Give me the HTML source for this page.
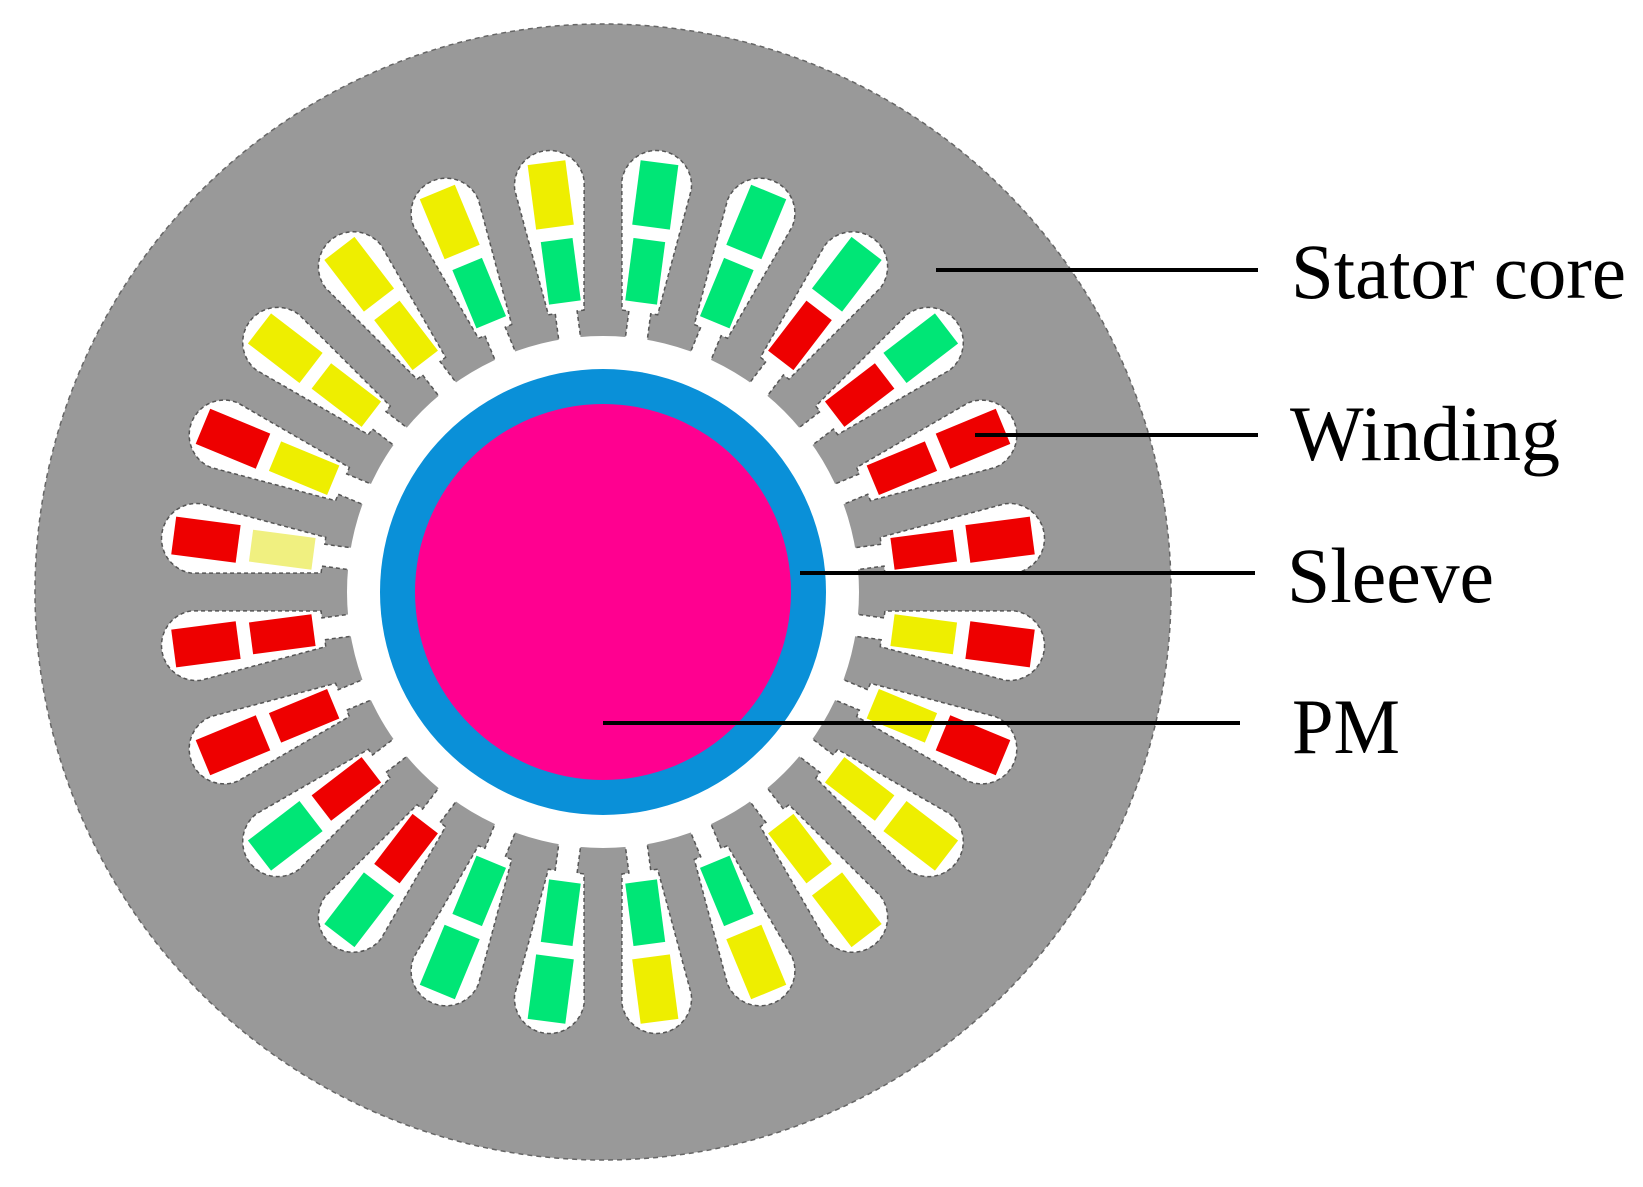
<!DOCTYPE html>
<html><head><meta charset="utf-8"><style>
html,body{margin:0;padding:0;background:#fff;}
svg{display:block;}
text{font-family:"Liberation Serif",serif;font-size:78px;fill:#000;}
</style></head><body>
<svg width="1643" height="1187" viewBox="0 0 1643 1187" xmlns="http://www.w3.org/2000/svg">
<defs>
<path id="s" d="M -11,-250 L -11,-282 L -18,-282 L -35,-410 A 35 35 0 0 1 35,-410 L 18,-282 L 11,-282 L 11,-250 Z" fill="#fff" stroke="#555" stroke-width="1.5" stroke-dasharray="4 3"/>
</defs>
<circle cx="603" cy="592" r="568" fill="#999" stroke="#666" stroke-width="1.5" stroke-dasharray="5 4"/>
<g id="slots"></g>
<g transform="translate(603 592)">
<g transform="rotate(7.5)"><use href="#s"/><rect x="-19" y="-433" width="38" height="65" fill="#00e676"/><rect x="-16" y="-355" width="32" height="63" fill="#00e676"/></g>
<g transform="rotate(22.5)"><use href="#s"/><rect x="-19" y="-433" width="38" height="65" fill="#00e676"/><rect x="-16" y="-355" width="32" height="63" fill="#00e676"/></g>
<g transform="rotate(37.5)"><use href="#s"/><rect x="-19" y="-433" width="38" height="65" fill="#00e676"/><rect x="-16" y="-355" width="32" height="63" fill="#ee0000"/></g>
<g transform="rotate(52.5)"><use href="#s"/><rect x="-19" y="-433" width="38" height="65" fill="#00e676"/><rect x="-16" y="-355" width="32" height="63" fill="#ee0000"/></g>
<g transform="rotate(67.5)"><use href="#s"/><rect x="-19" y="-433" width="38" height="65" fill="#ee0000"/><rect x="-16" y="-355" width="32" height="63" fill="#ee0000"/></g>
<g transform="rotate(82.5)"><use href="#s"/><rect x="-19" y="-433" width="38" height="65" fill="#ee0000"/><rect x="-16" y="-355" width="32" height="63" fill="#ee0000"/></g>
<g transform="rotate(97.5)"><use href="#s"/><rect x="-19" y="-433" width="38" height="65" fill="#ee0000"/><rect x="-16" y="-355" width="32" height="63" fill="#eeee00"/></g>
<g transform="rotate(112.5)"><use href="#s"/><rect x="-19" y="-433" width="38" height="65" fill="#ee0000"/><rect x="-16" y="-355" width="32" height="63" fill="#eeee00"/></g>
<g transform="rotate(127.5)"><use href="#s"/><rect x="-19" y="-433" width="38" height="65" fill="#eeee00"/><rect x="-16" y="-355" width="32" height="63" fill="#eeee00"/></g>
<g transform="rotate(142.5)"><use href="#s"/><rect x="-19" y="-433" width="38" height="65" fill="#eeee00"/><rect x="-16" y="-355" width="32" height="63" fill="#eeee00"/></g>
<g transform="rotate(157.5)"><use href="#s"/><rect x="-19" y="-433" width="38" height="65" fill="#eeee00"/><rect x="-16" y="-355" width="32" height="63" fill="#00e676"/></g>
<g transform="rotate(172.5)"><use href="#s"/><rect x="-19" y="-433" width="38" height="65" fill="#eeee00"/><rect x="-16" y="-355" width="32" height="63" fill="#00e676"/></g>
<g transform="rotate(187.5)"><use href="#s"/><rect x="-19" y="-433" width="38" height="65" fill="#00e676"/><rect x="-16" y="-355" width="32" height="63" fill="#00e676"/></g>
<g transform="rotate(202.5)"><use href="#s"/><rect x="-19" y="-433" width="38" height="65" fill="#00e676"/><rect x="-16" y="-355" width="32" height="63" fill="#00e676"/></g>
<g transform="rotate(217.5)"><use href="#s"/><rect x="-19" y="-433" width="38" height="65" fill="#00e676"/><rect x="-16" y="-355" width="32" height="63" fill="#ee0000"/></g>
<g transform="rotate(232.5)"><use href="#s"/><rect x="-19" y="-433" width="38" height="65" fill="#00e676"/><rect x="-16" y="-355" width="32" height="63" fill="#ee0000"/></g>
<g transform="rotate(247.5)"><use href="#s"/><rect x="-19" y="-433" width="38" height="65" fill="#ee0000"/><rect x="-16" y="-355" width="32" height="63" fill="#ee0000"/></g>
<g transform="rotate(262.5)"><use href="#s"/><rect x="-19" y="-433" width="38" height="65" fill="#ee0000"/><rect x="-16" y="-355" width="32" height="63" fill="#ee0000"/></g>
<g transform="rotate(277.5)"><use href="#s"/><rect x="-19" y="-433" width="38" height="65" fill="#ee0000"/><rect x="-16" y="-355" width="32" height="63" fill="#f0f080"/></g>
<g transform="rotate(292.5)"><use href="#s"/><rect x="-19" y="-433" width="38" height="65" fill="#ee0000"/><rect x="-16" y="-355" width="32" height="63" fill="#eeee00"/></g>
<g transform="rotate(307.5)"><use href="#s"/><rect x="-19" y="-433" width="38" height="65" fill="#eeee00"/><rect x="-16" y="-355" width="32" height="63" fill="#eeee00"/></g>
<g transform="rotate(322.5)"><use href="#s"/><rect x="-19" y="-433" width="38" height="65" fill="#eeee00"/><rect x="-16" y="-355" width="32" height="63" fill="#eeee00"/></g>
<g transform="rotate(337.5)"><use href="#s"/><rect x="-19" y="-433" width="38" height="65" fill="#eeee00"/><rect x="-16" y="-355" width="32" height="63" fill="#00e676"/></g>
<g transform="rotate(352.5)"><use href="#s"/><rect x="-19" y="-433" width="38" height="65" fill="#eeee00"/><rect x="-16" y="-355" width="32" height="63" fill="#00e676"/></g>
</g>
<circle cx="603" cy="592" r="256" fill="#fff"/>
<circle cx="603" cy="592" r="223" fill="#0a90d8"/>
<circle cx="603" cy="592" r="188" fill="#ff0090"/>
<g stroke="#000" stroke-width="4">
<line x1="936" y1="270" x2="1258" y2="270"/>
<line x1="975" y1="435" x2="1258" y2="435"/>
<line x1="800" y1="573" x2="1255" y2="573"/>
<line x1="603" y1="723" x2="1240" y2="723"/>
</g>
<text x="1291" y="298" textLength="335" lengthAdjust="spacingAndGlyphs">Stator core</text>
<text x="1290" y="460" textLength="270" lengthAdjust="spacingAndGlyphs">Winding</text>
<text x="1287" y="602" textLength="207" lengthAdjust="spacingAndGlyphs">Sleeve</text>
<text x="1292" y="753" textLength="108" lengthAdjust="spacingAndGlyphs">PM</text>
</svg>
</body></html>
